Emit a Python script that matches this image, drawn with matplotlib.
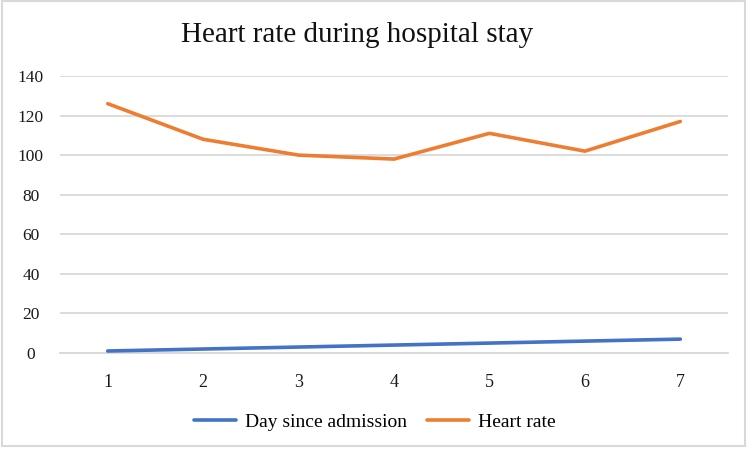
import matplotlib
matplotlib.use("Agg")
import matplotlib.pyplot as plt
from matplotlib.patches import Rectangle

# data
days = [1, 2, 3, 4, 5, 6, 7]
day_since_admission = [1, 2, 3, 4, 5, 6, 7]
heart_rate = [126, 108, 100, 98, 111, 102, 117]
y_ticks = [0, 20, 40, 60, 80, 100, 120, 140]

plt.rcParams['font.family'] = ['Liberation Serif', 'DejaVu Serif']

fig = plt.figure(figsize=(7.5, 4.5), dpi=100)
fig.patch.set_facecolor('white')
ax = fig.add_axes([0.08, 0.2156, 0.8907, 0.6156])

ax.plot(days, day_since_admission, color='#4472C4', linewidth=2.6,
        label='Day since admission', solid_capstyle='round', zorder=3)
ax.plot(days, heart_rate, color='#ED7D31', linewidth=2.6,
        label='Heart rate', solid_capstyle='round', zorder=3)

ax.set_xlim(0.5, 7.5)
ax.set_ylim(0, 140)
ax.set_xticks(days)
ax.set_yticks(y_ticks)
ax.grid(axis='y', color='#D9D9D9', linewidth=1.3, zorder=0)
ax.set_axisbelow(True)
for s in ['top', 'right', 'left']:
    ax.spines[s].set_visible(False)
ax.spines['bottom'].set_color('#D9D9D9')
ax.spines['bottom'].set_linewidth(1.3)

ax.tick_params(axis='both', length=0, labelcolor='#1a1a1a')
ax.tick_params(axis='x', pad=15, labelsize=13)
ax.tick_params(axis='y', pad=21, labelsize=12.5)
for lab in ax.get_yticklabels():
    lab.set_horizontalalignment('center')

fig.text(0.476, 0.923, 'Heart rate during hospital stay', ha='center', va='center',
         fontsize=21, color='#111111')

fig.legend(loc='center', bbox_to_anchor=(0.5, 0.062), ncol=2, frameon=False,
           fontsize=14, handlelength=2.15, columnspacing=1.0, handletextpad=0.5)

fig.add_artist(Rectangle((0.003, 0.008), 0.99, 0.99, transform=fig.transFigure,
                         fill=False, edgecolor='#D9D9D9', linewidth=1.5))

fig.savefig('out.png', dpi=100, facecolor='white')
